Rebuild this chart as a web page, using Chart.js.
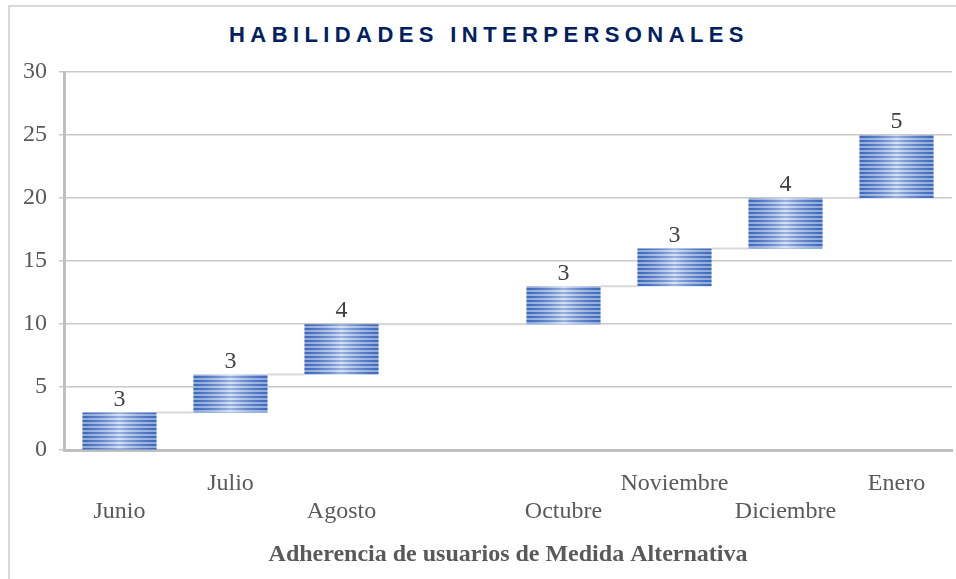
<!DOCTYPE html>
<html>
<head>
<meta charset="utf-8">
<script src="https://cdn.jsdelivr.net/npm/chart.js@4/dist/chart.umd.min.js"></script>
<style>
    body{ margin:0; background:#fff; overflow:hidden; }
    #marco{
        position:absolute; left:8px; top:5px;
        width:1000px; height:640px;
        border:2px solid #d9d9d9;
    }
    #titulo{
        position:absolute; left:0; top:22px; width:978px;
        text-align:center;
        font:bold 22px "Liberation Sans", Arial, sans-serif;
        letter-spacing:5.4px;
        color:#002060;
    }
    #lienzo{ position:absolute; left:0; top:0; }
</style>
</head>
<body>
<div id="marco"></div>
<div id="titulo">HABILIDADES INTERPERSONALES</div>
<canvas id="lienzo" width="956" height="579"></canvas>
<script>

// Datos (cascada)
const meses = ["Junio", "Julio", "Agosto", "", "Octubre", "Noviembre", "Diciembre", "Enero"];
const inicio = [0, 3, 6, null, 10, 13, 16, 20];
const aumento = [3, 3, 4, null, 3, 3, 4, 5];
const marcasY = [0, 5, 10, 15, 20, 25, 30];

const serif = "'Liberation Serif', 'Times New Roman', serif";
const gris = "#595959";

// barras flotantes [base, tope]
const barras = inicio.map((b, i) => b === null ? null : [b, b + aumento[i]]);

// relleno rayado horizontal
function rayado(){
    const c = document.createElement("canvas");
    c.width = 4; c.height = 4;
    const g = c.getContext("2d");
    g.fillStyle = "#b7c9ea";
    g.fillRect(0, 0, 4, 4);
    g.fillStyle = "#4472c4";
    g.fillRect(0, 0, 4, 2);
    return g.createPattern(c, "repeat");
}

const extras = {
    id: "extras",
    beforeDatasetsDraw(chart){
        // lineas conectoras
        const ctx = chart.ctx;
        const els = chart.getDatasetMeta(0).data;
        ctx.save();
        ctx.strokeStyle = "#d9d9d9";
        ctx.lineWidth = 2;
        for(let i = 0; i < els.length; i++){
            if(barras[i] === null) continue;
            let j = i + 1;
            while(j < els.length && barras[j] === null) j++;
            if(j >= els.length) break;
            const a = els[i], b = els[j];
            const y = chart.scales.y.getPixelForValue(barras[i][1]);
            ctx.beginPath();
            ctx.moveTo(a.x + a.width / 2, y);
            ctx.lineTo(b.x - b.width / 2, y);
            ctx.stroke();
        }
        ctx.restore();
    },
    afterDatasetsDraw(chart){
        const ctx = chart.ctx;
        const els = chart.getDatasetMeta(0).data;
        ctx.save();
        els.forEach((el, i) => {
            if(barras[i] === null) return;
            const izq = el.x - el.width / 2, der = el.x + el.width / 2;
            const top = Math.min(el.y, el.base), alto = Math.abs(el.base - el.y);
            // brillo central
            const gr = ctx.createLinearGradient(izq, 0, der, 0);
            gr.addColorStop(0, "rgba(40,80,170,0.25)");
            gr.addColorStop(0.5, "rgba(255,255,255,0.45)");
            gr.addColorStop(1, "rgba(40,80,170,0.25)");
            ctx.fillStyle = gr;
            ctx.fillRect(izq, top, el.width, alto);
            // etiqueta de valor
            ctx.fillStyle = "#404040";
            ctx.font = "24px " + serif;
            ctx.textAlign = "center";
            ctx.textBaseline = "bottom";
            ctx.fillText(String(aumento[i]), el.x, top - 1);
        });
        ctx.restore();
    }
};

new Chart(document.getElementById("lienzo"), {
    type: "bar",
    data: {
        labels: meses,
        datasets: [{
            data: barras,
            backgroundColor: rayado(),
            borderWidth: 0,
            barPercentage: 0.667,
            categoryPercentage: 1
        }]
    },
    options: {
        responsive: false,
        animation: false,
        layout: { padding: { left: 11, right: 4, top: 72, bottom: 10 } },
        plugins: {
            legend: { display: false },
            tooltip: { enabled: false }
        },
        scales: {
            x: {
                grid: { display: false },
                border: { display: true, color: "#bfbfbf", width: 3 },
                ticks: {
                    color: gris,
                    font: { family: serif, size: 24, lineHeight: "28px" },
                    padding: 12,
                    maxRotation: 0,
                    autoSkip: false,
                    callback: function(v, i){
                        const t = meses[i];
                        return i % 2 === 0 ? ["", t] : [t];
                    }
                },
                title: {
                    display: true,
                    text: "Adherencia de usuarios de Medida Alternativa",
                    color: gris,
                    font: { family: serif, size: 24, weight: "bold" },
                    padding: { top: 2, bottom: 0 }
                }
            },
            y: {
                min: 0,
                max: 30,
                afterBuildTicks(axis){
                    axis.ticks = marcasY.map(v => ({ value: v }));
                },
                grid: { color: "#c9c9c9", lineWidth: 1.5, tickLength: 5 },
                border: { display: true, color: "#bfbfbf", width: 3 },
                ticks: {
                    color: gris,
                    font: { family: serif, size: 24 },
                    padding: 12
                }
            }
        }
    },
    plugins: [extras]
});

</script>
</body>
</html>
